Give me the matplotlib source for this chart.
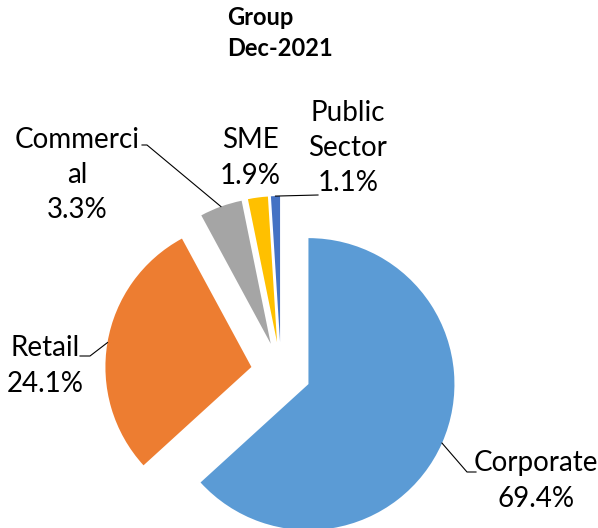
import numpy as np
import matplotlib
matplotlib.use('Agg')
from matplotlib import pyplot as plt

plt.rcParams['font.family'] = ['Lato', 'DejaVu Sans']

segments = ['Corporate', 'Retail', 'Commercial', 'SME', 'Public Sector']
label_text = ['Corporate\n69.4%', 'Retail\n24.1%', 'Commerci\nal\n3.3%',
              'SME\n1.9%', 'Public\nSector\n1.1%']
# share of the circle each wedge takes in the picture
shares = [63.3, 28.9, 4.7, 2.2, 1.0]
colors = ['#5B9BD5', '#ED7D31', '#A5A5A5', '#FFC000', '#4472C4']
title = 'Group\nDec-2021'

W, H = 598, 528
fig = plt.figure(figsize=(W / 100, H / 100), dpi=100)
ax = fig.add_axes([0, 0, 1, 1])

wedges, _ = ax.pie(shares, colors=colors, startangle=90, counterclock=False,
                   center=(281, H - 372), radius=146, explode=[30] * 5,
                   wedgeprops=dict(linewidth=0))
ax.set_xlim(0, W)
ax.set_ylim(0, H)
ax.set_aspect('equal')
ax.axis('off')

# label placement (pixels from top-left) and leader elbows
label_pos = [(536, 481), (45, 366), (77, 175), (250, 158), (348, 148)]
elbows = [[(467, 472), (476, 472)],
          [(90, 356), (80, 356)],
          [(147, 145), (142, 145)],
          None,
          [(318, 195)]]

for w, txt, pos, elb in zip(wedges, label_text, label_pos, elbows):
    ax.text(pos[0], H - pos[1], txt, ha='center', va='center', fontsize=20,
            linespacing=1.45, color='black')
    if elb is None:
        continue
    mid = np.deg2rad((w.theta1 + w.theta2) / 2)
    ax_ = w.center[0] + w.r * np.cos(mid)
    ay_ = w.center[1] + w.r * np.sin(mid)
    xs = [ax_] + [p[0] for p in elb]
    ys = [ay_] + [H - p[1] for p in elb]
    ax.plot(xs, ys, color='black', lw=0.8)

ax.text(227, H - 33, title, ha='left', va='center', fontsize=17,
        fontweight='bold', linespacing=1.4)

fig.savefig('out.png', dpi=100)
